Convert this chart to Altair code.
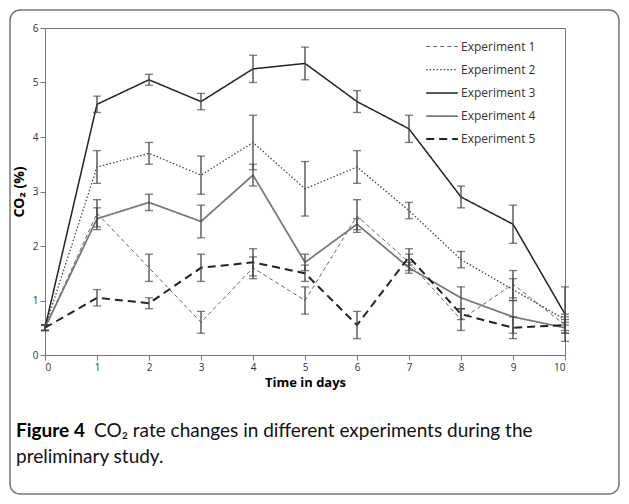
import altair as alt
import pandas as pd

days = list(range(11))
exp_names = ["Experiment 1", "Experiment 2", "Experiment 3", "Experiment 4", "Experiment 5"]
exp1 = [0.5, 2.6, 1.6, 0.6, 1.6, 1.0, 2.55, 1.7, 0.65, 1.3, 0.55]
exp2 = [0.5, 3.45, 3.7, 3.3, 3.9, 3.05, 3.45, 2.65, 1.75, 1.2, 0.65]
exp3 = [0.5, 4.6, 5.05, 4.65, 5.25, 5.35, 4.65, 4.15, 2.9, 2.4, 0.75]
exp4 = [0.5, 2.5, 2.8, 2.45, 3.3, 1.7, 2.4, 1.6, 1.05, 0.7, 0.5]
exp5 = [0.5, 1.05, 0.95, 1.6, 1.7, 1.5, 0.55, 1.8, 0.75, 0.5, 0.55]
err1 = [0.05, 0.25, 0.25, 0.2, 0.2, 0.25, 0.3, 0.15, 0.2, 0.25, 0.1]
err2 = [0.05, 0.3, 0.2, 0.35, 0.5, 0.5, 0.3, 0.15, 0.15, 0.2, 0.1]
err3 = [0.05, 0.15, 0.1, 0.15, 0.25, 0.3, 0.2, 0.25, 0.2, 0.35, 0.5]
err4 = [0.05, 0.2, 0.15, 0.3, 0.2, 0.15, 0.1, 0.1, 0.2, 0.3, 0.1]
err5 = [0.05, 0.15, 0.1, 0.25, 0.25, 0.15, 0.25, 0.15, 0.1, 0.2, 0.15]

rows = []
for name, vals, errs in zip(exp_names, [exp1, exp2, exp3, exp4, exp5], [err1, err2, err3, err4, err5]):
    for d, v, e in zip(days, vals, errs):
        rows.append({"day": d, "co2": v, "lo": v - e, "hi": v + e, "exp": name})
df = pd.DataFrame(rows)

font = "Open Sans"
cfont = "Lato"
dash_scale = alt.Scale(domain=exp_names, range=[[4, 3], [1.5, 2], [1, 0], [1, 0], [8, 5]])
color_scale = alt.Scale(domain=exp_names, range=["#666", "#444", "#222", "#777", "#222"])
width_scale = alt.Scale(domain=exp_names, range=[1, 2, 2.5, 1.2, 2.5])

xenc = alt.X("day:Q", title="Time in days", scale=alt.Scale(domain=[0, 10], nice=False),
             axis=alt.Axis(values=days, grid=False, titleFontWeight="bold", titleFontSize=13,
                           titleFont=font, labelFont=font, labelColor="#333", domainColor="#777",
                           tickColor="#777", titlePadding=4))
yenc = alt.Y("co2:Q", title="CO₂ (%)", scale=alt.Scale(domain=[0, 6], nice=False),
             axis=alt.Axis(values=[0, 1, 2, 3, 4, 5, 6], format="d", grid=False, titleFontWeight="bold",
                           titleFontSize=14, titleFont=font, labelFont=font, labelColor="#333",
                           domainColor="#777", tickColor="#777", titlePadding=6))

lines = alt.Chart(df).mark_line().encode(
    x=xenc, y=yenc,
    strokeDash=alt.StrokeDash("exp:N", scale=dash_scale, title=None),
    color=alt.Color("exp:N", scale=color_scale, title=None),
    strokeWidth=alt.StrokeWidth("exp:N", scale=width_scale, title=None),
)
errs = alt.Chart(df).mark_errorbar(ticks={"size": 8}, color="#444", thickness=1.3).encode(
    x="day:Q", y=alt.Y("lo:Q", title="CO₂ (%)"), y2="hi:Q"
)

box = alt.Chart(pd.DataFrame({"a": [0]})).mark_rect(
    fill="transparent", stroke="#777", strokeWidth=1.5, cornerRadius=10, clip=False
).encode(x=alt.value(-35), x2=alt.value(574), y=alt.value(-18), y2=alt.value(466))

cap1 = alt.Chart(pd.DataFrame({"t": ["Figure 4"]})).mark_text(
    align="left", baseline="middle", font=cfont, fontSize=19, fontWeight="bold", clip=False
).encode(text="t:N", x=alt.value(-29), y=alt.value(403))
cap2 = alt.Chart(pd.DataFrame({"t": ["CO₂ rate changes in different experiments during the"]})).mark_text(
    align="left", baseline="middle", font=cfont, fontSize=19, clip=False, color="#111"
).encode(text="t:N", x=alt.value(49), y=alt.value(403))
cap3 = alt.Chart(pd.DataFrame({"t": ["preliminary study."]})).mark_text(
    align="left", baseline="middle", font=cfont, fontSize=19, clip=False, color="#111"
).encode(text="t:N", x=alt.value(-29), y=alt.value(429))

chart = alt.layer(lines, errs, box, cap1, cap2, cap3).properties(
    width=520, height=327,
    autosize=alt.AutoSizeParams(type="none"),
    padding={"left": 37, "top": 20, "right": 56, "bottom": 141},
).configure_view(stroke="#777").configure_legend(
    orient="none", legendX=380, legendY=2, symbolType="stroke", symbolSize=1000,
    labelFont=font, labelFontSize=12, labelColor="#333", rowPadding=-10, symbolStrokeWidth=2,
    labelOffset=2
)
chart.save("out.html", embed_options={"renderer": "svg", "actions": False})
